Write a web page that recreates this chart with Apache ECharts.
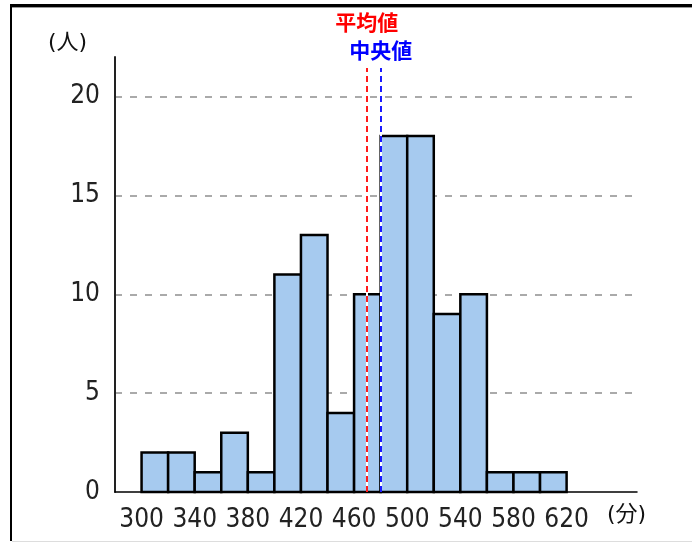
<!DOCTYPE html>
<html>
<head>
<meta charset="utf-8">
<script src="https://cdn.jsdelivr.net/npm/echarts@6/dist/echarts.min.js"></script>
<style>
html,body{margin:0;padding:0;background:#fff;}
#chart{position:absolute;left:0;top:0;width:692px;height:544px;}
#t1{position:absolute;left:10px;top:4px;width:682px;height:3px;background:#000;z-index:5;}
#t2{position:absolute;left:12px;top:7px;width:680px;height:1px;background:#999;z-index:5;}
#t3{position:absolute;left:10px;top:7px;width:2px;height:534px;background:#000;z-index:5;}
#t4{position:absolute;left:12px;top:541px;width:680px;height:1px;background:#ddd;z-index:5;}
</style>
</head>
<body>
<div id="chart"></div>
<div id="t1"></div>
<div id="t2"></div>
<div id="t3"></div>
<div id="t4"></div>
<script>
// Histogram bins (lower edge, minutes) and counts (people)
var binStarts = [300, 320, 340, 360, 380, 400, 420, 440, 460, 480, 500, 520, 540, 560, 580, 600];
var binWidth = 20;
var counts = [2, 2, 1, 3, 1, 11, 13, 4, 10, 18, 18, 9, 10, 1, 1, 1];
var xTickLabels = [300, 340, 380, 420, 460, 500, 540, 580, 620];
var yTickLabels = [0, 5, 10, 15, 20];
var meanValue = 469.5;
var medianValue = 480;
var meanLabel = '平均値';
var medianLabel = '中央値';
var yUnit = '(人)';
var xUnit = '(分)';

var numFont = '"Liberation Sans Narrow", "DejaVu Sans Condensed", "Noto Sans CJK JP", sans-serif';
var jpFont = '"Noto Sans CJK JP", sans-serif';
var unitFont = '"DejaVu Sans", "Noto Sans CJK JP", sans-serif';

var barData = binStarts.map(function (s, i) { return [s, s + binWidth, counts[i]]; });

var chart = echarts.init(document.getElementById('chart'));
chart.setOption({
  animation: false,
  grid: { left: 115, right: 55, top: 57, bottom: 52 },
  xAxis: {
    type: 'value', min: 280, max: 673, interval: 20,
    axisLine: { show: true, onZero: false, lineStyle: { color: '#000', width: 1.5 } },
    axisTick: { show: false },
    splitLine: { show: false },
    axisLabel: {
      color: '#222', fontSize: 26, fontFamily: numFont, margin: 15,
      showMaxLabel: false,
      formatter: function (v) { return xTickLabels.indexOf(v) >= 0 ? String(v) : ''; }
    }
  },
  yAxis: {
    type: 'value', min: 0, max: 22, interval: 5,
    axisLine: { show: true, lineStyle: { color: '#222', width: 2 } },
    axisTick: { show: false },
    splitLine: { show: true, showMinLine: false, showMaxLine: false, lineStyle: { color: '#aaa', width: 2, type: [7, 8] } },
    axisLabel: {
      color: '#222', fontSize: 26, fontFamily: numFont, margin: 15,
      showMaxLabel: false,
      formatter: function (v) { return yTickLabels.indexOf(v) >= 0 ? String(v) : ''; }
    }
  },
  graphic: [
    { type: 'text', left: 48, top: 32, style: { text: yUnit, fontSize: 22, fontFamily: unitFont, fill: '#111' } },
    { type: 'text', left: 607, top: 504, style: { text: xUnit, fontSize: 22, fontFamily: unitFont, fill: '#111' } }
  ],
  series: [{
    type: 'custom',
    data: barData,
    encode: { x: [0, 1], y: 2 },
    renderItem: function (params, api) {
      var p0 = api.coord([api.value(0), api.value(2)]);
      var p1 = api.coord([api.value(1), 0]);
      return {
        type: 'rect',
        shape: { x: p0[0], y: p0[1], width: p1[0] - p0[0], height: p1[1] - p0[1] },
        style: { fill: '#a6caef', stroke: '#000', lineWidth: 2.5 }
      };
    },
    markLine: {
      silent: true,
      symbol: ['none', 'none'],
      animation: false,
      data: [
        [{ coord: [meanValue, 0], lineStyle: { color: '#fff', width: 2, type: 'solid' }, label: { show: false } }, { coord: [meanValue, 21.45] }],
        [{ coord: [medianValue, 0], lineStyle: { color: '#fff', width: 2, type: 'solid' }, label: { show: false } }, { coord: [medianValue, 21.45] }],
        [{ coord: [meanValue, 0], lineStyle: { color: '#ff1a1a', width: 2, type: [6, 4] },
           label: { show: true, position: 'end', formatter: meanLabel, color: '#ff0000', fontSize: 21, fontWeight: 'bold', fontFamily: jpFont, distance: 35 } },
         { coord: [meanValue, 21.45] }],
        [{ coord: [medianValue, 0], lineStyle: { color: '#1a1aff', width: 2, type: [6, 4] },
           label: { show: true, position: 'end', formatter: medianLabel, color: '#0000ff', fontSize: 21, fontWeight: 'bold', fontFamily: jpFont, distance: 7 } },
         { coord: [medianValue, 21.45] }]
      ]
    }
  }]
});
</script>
</body>
</html>
